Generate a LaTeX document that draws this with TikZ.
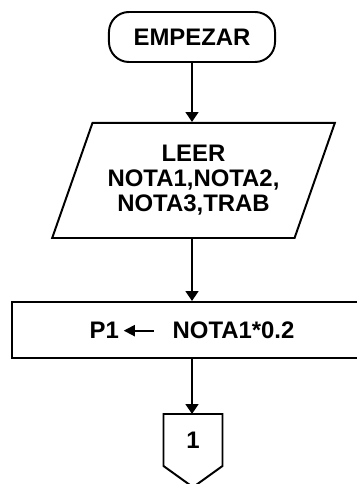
\documentclass[tikz,border=0pt]{standalone}
\usepackage{fontspec}
\setmainfont{Liberation Sans}
\usetikzlibrary{shapes.geometric,arrows.meta}

\newcommand{\asigna}{\tikz[baseline=-0.6ex]\draw[line width=1.3pt,{Triangle[length=8pt,width=8pt]}-] (0,0) -- (0.75cm,0);}

\begin{document}
\begin{tikzpicture}[
        x=0.025cm, y=-0.025cm,
        every node/.style={draw,line width=1.4pt,align=center,inner sep=0pt,
                font=\fontsize{17}{17.8}\selectfont\bfseries},
        terminal/.style={rounded corners=0.5cm,minimum width=4.15cm,minimum height=1.25cm},
        io/.style={trapezium,trapezium left angle=64,trapezium right angle=116,
                trapezium stretches=true,minimum width=7.075cm,minimum height=2.875cm},
        process/.style={rectangle,minimum width=9cm,minimum height=1.4cm},
        offpage/.style={draw=none,minimum width=1.425cm,minimum height=1.25cm},
        flow/.style={line width=1.4pt,-{Triangle[length=7pt,width=9pt]}}
    ]
    \useasboundingbox (0,0) rectangle (356,484);

    \node[terminal] (start) at (192,37) {EMPEZAR};
    \node[io] (read) at (193.5,180.5) {LEER\\NOTA1,NOTA2,\\NOTA3,TRAB};
    \node[process] (calc) at (192,330) {P1\,\asigna\hspace{0.45cm}NOTA1*0.2};
    \node[offpage] (conn) at (193,440) {\raisebox{-0.2cm}{1}};
    % conector fuera de pagina
    \draw[line width=1.4pt,line join=miter] (conn.south west) -- (conn.north west) -- (conn.north east)
        -- (conn.south east) -- ([yshift=-0.53cm]conn.south) -- cycle;

    \draw[flow] (start.south) -- (start.south |- read.north);
    \draw[flow] (read.south -| start.south) -- (start.south |- calc.north);
    \draw[flow] (calc.south -| start.south) -- (start.south |- conn.north);

\end{tikzpicture}
\end{document}
